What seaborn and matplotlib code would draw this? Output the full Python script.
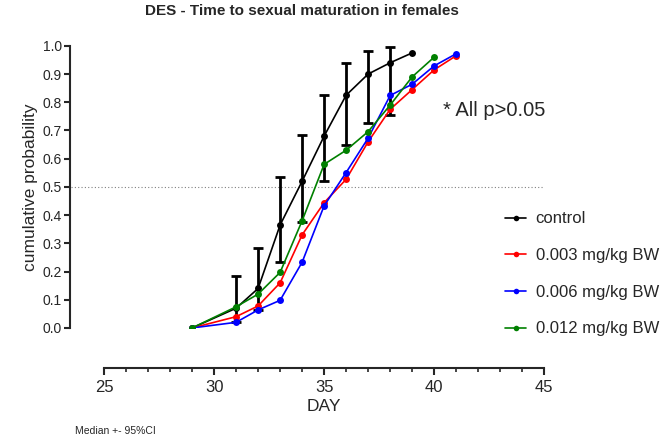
import numpy as np
import pandas as pd
import seaborn as sns
import matplotlib.pyplot as plt

groups = ["control", "0.003 mg/kg BW", "0.006 mg/kg BW", "0.012 mg/kg BW"]
colors = ["black", "red", "blue", "green"]

control_day = [29, 31, 32, 33, 34, 35, 36, 37, 38, 39]
control_p = [0.0, 0.07, 0.14, 0.365, 0.52, 0.68, 0.825, 0.90, 0.94, 0.975]
control_lo = [0.0, 0.02, 0.065, 0.235, 0.375, 0.52, 0.65, 0.725, 0.755, 0.975]
control_hi = [0.0, 0.185, 0.285, 0.535, 0.685, 0.825, 0.94, 0.98, 0.995, 0.975]

dose_day = [29, 31, 32, 33, 34, 35, 36, 37, 38, 39, 40, 41]
low_p = [0.0, 0.04, 0.078, 0.16, 0.33, 0.444, 0.527, 0.66, 0.775, 0.845, 0.915, 0.965]
mid_p = [0.0, 0.02, 0.064, 0.098, 0.233, 0.433, 0.551, 0.673, 0.824, 0.864, 0.929, 0.972]
high_day = [29, 31, 32, 33, 34, 35, 36, 37, 38, 39, 40]
high_p = [0.0, 0.075, 0.12, 0.197, 0.38, 0.58, 0.63, 0.696, 0.79, 0.89, 0.96]

frames = [
    pd.DataFrame({"day": control_day, "p": control_p, "group": groups[0]}),
    pd.DataFrame({"day": dose_day, "p": low_p, "group": groups[1]}),
    pd.DataFrame({"day": dose_day, "p": mid_p, "group": groups[2]}),
    pd.DataFrame({"day": high_day, "p": high_p, "group": groups[3]}),
]
df = pd.concat(frames, ignore_index=True)

sns.set_style("ticks")
plt.rcParams["font.family"] = ["Liberation Sans", "DejaVu Sans"]

fig = plt.figure(figsize=(6.69, 4.45), dpi=100)
ax = fig.add_axes([0.1555, 0.263, 0.658, 0.634])

# error bars first so the lines sit on top
yerr = [np.array(control_p) - np.array(control_lo), np.array(control_hi) - np.array(control_p)]
ax.errorbar(control_day[1:-1], control_p[1:-1],
            yerr=[yerr[0][1:-1], yerr[1][1:-1]],
            fmt="none", ecolor="black", elinewidth=2, capsize=3.5, capthick=2, zorder=2)

sns.lineplot(data=df, x="day", y="p", hue="group", hue_order=groups,
             palette=colors, marker="o", markersize=5, markeredgewidth=0,
             linewidth=1.2, sort=False, ax=ax, zorder=3)

ax.axhline(0.5, xmin=-0.075, xmax=1.0, color="gray", linestyle=(0, (1, 2)),
           linewidth=0.8, clip_on=False, zorder=1)

ax.set_xlim(25, 45)
ax.set_ylim(0, 1)
ax.set_xticks([25, 30, 35, 40, 45])
ax.set_xticks(np.arange(25, 46, 1), minor=True)
ax.set_yticks(np.round(np.arange(0, 1.01, 0.1), 1))
ax.set_yticklabels([f"{v:.1f}" for v in np.arange(0, 1.01, 0.1)], fontsize=9.5)
ax.tick_params(axis="x", labelsize=12, width=1.5, length=5)
ax.tick_params(axis="x", which="minor", width=1.2, length=3)
ax.tick_params(axis="y", width=1.5, length=4, pad=2)

ax.spines["top"].set_visible(False)
ax.spines["right"].set_visible(False)
ax.spines["left"].set_position(("outward", 24.5))
ax.spines["bottom"].set_position(("outward", 29))
ax.spines["left"].set_linewidth(1.5)
ax.spines["bottom"].set_linewidth(1.5)

ax.set_xlabel("DAY", fontsize=12.5, labelpad=3)
ax.set_ylabel("cumulative probability", fontsize=12.5, labelpad=3)
ax.set_title("DES - Time to sexual maturation in females", fontsize=11,
             fontweight="bold", x=0.45, pad=22)

ax.text(0.77, 0.77, "* All p>0.05", transform=ax.transAxes, fontsize=14.5, ha="left", va="center")

handles, labels = ax.get_legend_handles_labels()
ax.legend(handles, labels, loc="upper left", bbox_to_anchor=(0.895, 0.437),
          frameon=False, fontsize=12, labelspacing=1.3, handlelength=1.3,
          handletextpad=0.55, borderaxespad=0, markerscale=0.8)

fig.text(0.112, 0.02, "Median +- 95%CI", fontsize=7.5, ha="left", va="bottom")

fig.savefig("out.png", dpi=100)
plt.close(fig)
